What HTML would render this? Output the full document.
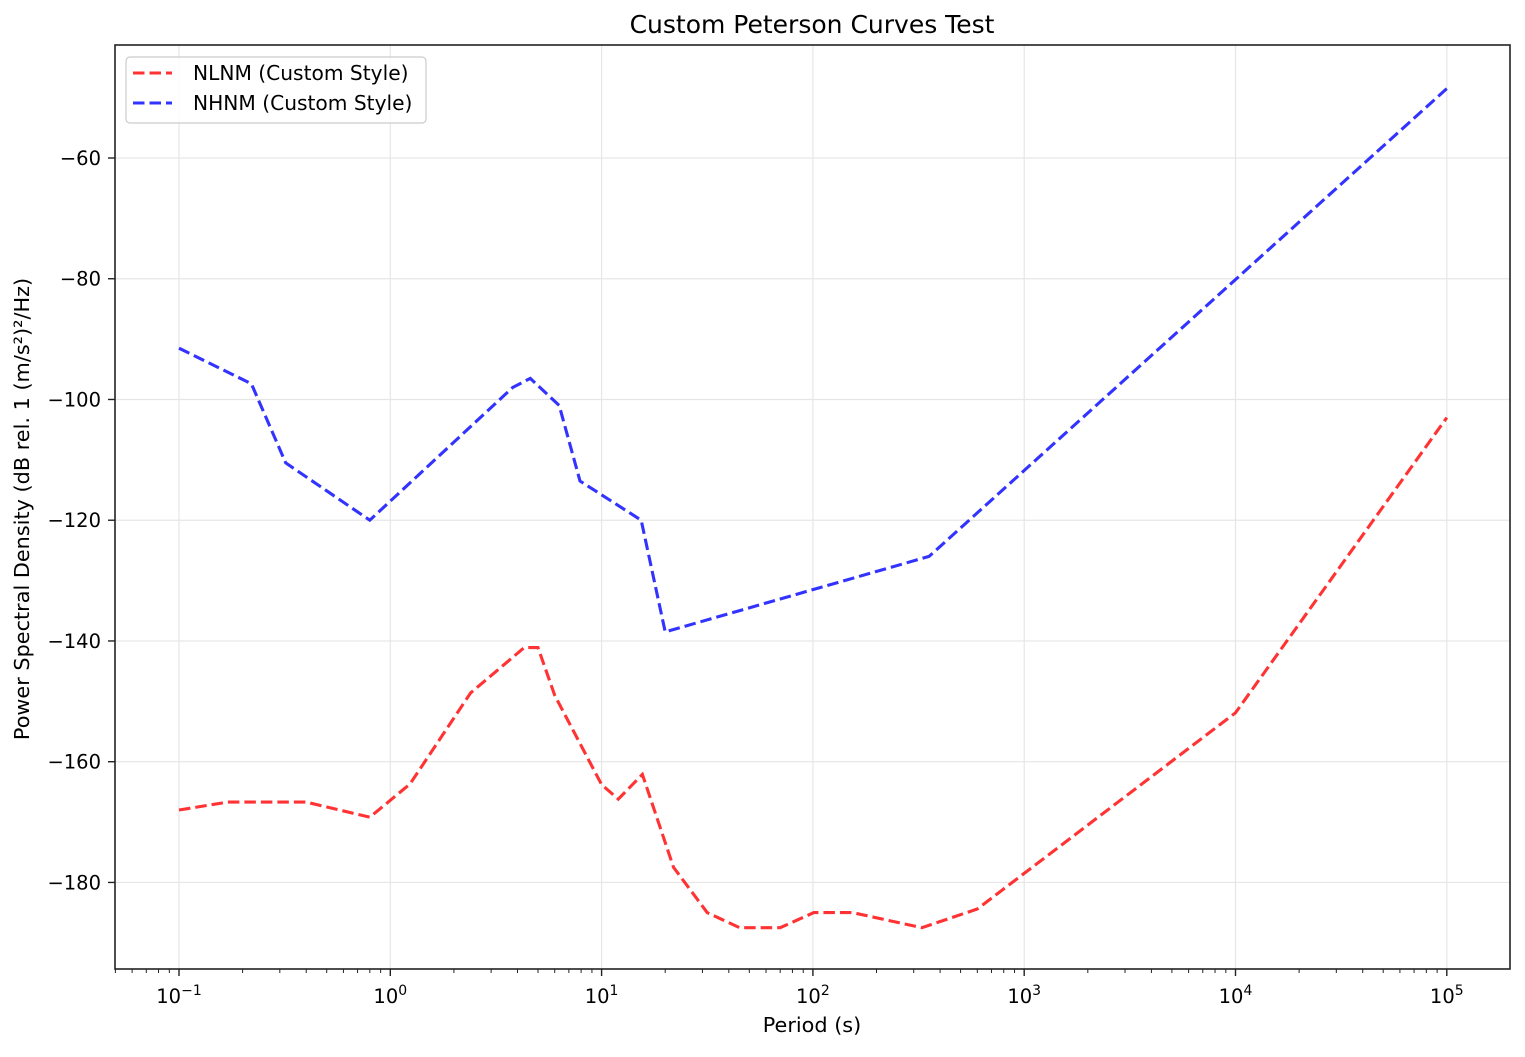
<!DOCTYPE html>
<html><head><meta charset="utf-8"><style>
body{margin:0;background:#fff;font-family:"Liberation Sans","DejaVu Sans",sans-serif}
svg text{font-family:"DejaVu Sans","Liberation Sans",sans-serif}
</style></head><body>
<svg id="c" width="1525" height="1052" xmlns="http://www.w3.org/2000/svg"></svg>
<script>
const nlnmPeriods=[0.1,0.17,0.4,0.8,1.24,2.4,4.3,5,6,10,12,15.6,21.9,31.6,45,70,101,154,328,600,10000,100000];
const nlnmValues=[-168,-166.7,-166.7,-169.2,-163.7,-148.6,-141.1,-141.1,-149.0,-163.8,-166.2,-162.1,-177.5,-185.0,-187.5,-187.5,-185.0,-185.0,-187.5,-184.4,-151.9,-103.0];
const nhnmPeriods=[0.1,0.22,0.32,0.8,3.8,4.6,6.3,7.9,15.4,20,354.8,100000];
const nhnmValues=[-91.5,-97.4,-110.5,-120.0,-98.0,-96.5,-101.0,-113.5,-120.0,-138.5,-126.0,-48.5];
const yTicks=[-180,-160,-140,-120,-100,-80,-60];
const xTickExps=[-1,0,1,2,3,4,5];
const L=115,R=1510,T=45,B=969;
const X0=179,DEC=211.3;
const Y60=158,PER=6.037;
const sx=p=>X0+(Math.log10(p)+1)*DEC;
const sy=v=>Y60+(-60-v)*PER;
const svg=document.getElementById('c');
const NS='http://www.w3.org/2000/svg';
function mk(t,a,txt){const e=document.createElementNS(NS,t);for(const k in a)e.setAttribute(k,a[k]);if(txt!==undefined)e.textContent=txt;svg.appendChild(e);return e;}
for(const e of xTickExps){const x=sx(Math.pow(10,e));
const g=mk('line',{x1:x,x2:x,y1:T,y2:B,stroke:'#e6e6e6','stroke-width':1.2});
}
for(const v of yTicks){const y=sy(v);
const g=mk('line',{x1:L,x2:R,y1:y,y2:y,stroke:'#e6e6e6','stroke-width':1.2});
}
function series(P,V,color,name){
const d=P.map((p,i)=>(i?'L':'M')+sx(p).toFixed(1)+' '+sy(V[i]).toFixed(1)).join(' ');
const e=mk('path',{d:d,fill:'none',stroke:color,'stroke-width':3.1,'stroke-dasharray':'11.5,5','stroke-opacity':0.8});
}
series(nlnmPeriods,nlnmValues,'#ff0000','nlnm-line');
series(nhnmPeriods,nhnmValues,'#0000ff','nhnm-line');
const f=mk('rect',{x:L,y:T,width:R-L,height:B-T,fill:'none',stroke:'#222','stroke-width':1.6});

for(let e=-2;e<=5;e++){for(let m=1;m<10;m++){const x=sx(m*Math.pow(10,e));if(x<L||x>R)continue;
const major=m===1;
const t=mk('line',{x1:x,x2:x,y1:B,y2:B+(major?7:4),stroke:'#222','stroke-width':major?1.4:1});
}}
for(const e of xTickExps){const x=sx(Math.pow(10,e));
const t=mk('text',{x:x,y:1003,'text-anchor':'middle','font-size':19.5});

const a=document.createElementNS(NS,'tspan');a.textContent='10';t.appendChild(a);
const b=document.createElementNS(NS,'tspan');b.setAttribute('dy','-8');b.setAttribute('font-size','14');b.textContent=e<0?'\u2212'+(-e):e;t.appendChild(b);}
for(const v of yTicks){const y=sy(v);
const t=mk('line',{x1:L-7,x2:L,y1:y,y2:y,stroke:'#222','stroke-width':1.4});

const l=mk('text',{x:L-14,y:y+7,'text-anchor':'end','font-size':19.5},'\u2212'+(-v));
}
const xt=mk('text',{x:812,y:1032,'text-anchor':'middle','font-size':20.8},'Period (s)');

const yt=mk('text',{x:0,y:0,'text-anchor':'middle','font-size':20.8,transform:'translate(29,509) rotate(-90)'},'Power Spectral Density (dB rel. 1 (m/s\u00b2)\u00b2/Hz)');

const tt=mk('text',{x:812,y:33,'text-anchor':'middle','font-size':25},'Custom Peterson Curves Test');

const lg=mk('rect',{x:126,y:57,width:300,height:66,rx:4,fill:'#fff','fill-opacity':0.8,stroke:'#cccccc','stroke-width':1.2});

[['#ff0000','NLNM (Custom Style)',73],['#0000ff','NHNM (Custom Style)',103]].forEach(([c,txt,y])=>{
const ln=mk('line',{x1:133,x2:172,y1:y,y2:y,stroke:c,'stroke-width':3.1,'stroke-dasharray':'11.5,5','stroke-opacity':0.8});

const t=mk('text',{x:193,y:y+7,'font-size':20.2},txt);
});
</script>
</body></html>
